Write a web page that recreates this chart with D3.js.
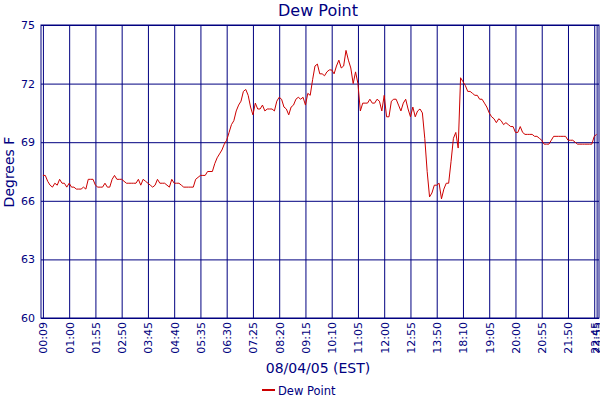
<!DOCTYPE html>
<html>
<head>
<meta charset="utf-8">
<script src="https://cdn.jsdelivr.net/npm/d3@7"></script>
<style>
  body { margin: 0; background: #fff; }
  text { font-family: "DejaVu Sans", Verdana, sans-serif; fill: #000080; }
</style>
</head>
<body>
<div id="chart"></div>
<script>
// dew point readings, one per sample (x axis is sample order)
var dewPoint = [
  67.3, 67.3, 67.0, 66.8, 66.7, 66.9, 66.8, 67.1, 66.9, 66.9,
  66.7, 66.9, 66.7, 66.7, 66.6, 66.6, 66.6, 66.7, 66.6, 67.1,
  67.1, 67.1, 66.8, 66.7, 66.7, 66.7, 66.9, 66.7, 66.7, 67.1,
  67.3, 67.1, 67.1, 67.1, 67.0, 66.9, 66.9, 66.9, 66.9, 66.9,
  67.1, 66.8, 67.1, 67.0, 66.9, 66.8, 66.7, 66.8, 67.1, 66.9,
  66.9, 66.9, 66.8, 66.7, 67.1, 66.9, 66.9, 66.9, 66.8, 66.7,
  66.7, 66.7, 66.7, 66.7, 67.1, 67.2, 67.3, 67.3, 67.3, 67.5,
  67.5, 67.5, 67.9, 68.2, 68.4, 68.6, 68.9, 69.1, 69.5, 69.9,
  70.1, 70.6, 70.9, 71.1, 71.6, 71.7, 71.4, 70.8, 70.4, 71.0,
  70.7, 70.7, 70.9, 70.6, 70.7, 70.7, 70.7, 70.6, 71.1, 71.3,
  71.2, 70.8, 70.7, 70.4, 70.8, 70.9, 71.2, 71.3, 71.2, 71.3,
  70.9, 71.5, 71.4, 72.2, 72.9, 73.0, 72.5, 72.5, 72.4, 72.6,
  72.7, 72.7, 72.5, 72.9, 73.2, 72.8, 72.9, 73.7, 73.2, 72.8,
  72.0, 72.6, 72.0, 70.6, 71.0, 71.0, 71.0, 71.2, 71.0, 71.0,
  71.2, 71.1, 70.6, 71.4, 70.3, 70.3, 71.1, 71.2, 71.2, 70.9,
  70.6, 71.0, 71.2, 70.7, 70.3, 70.8, 70.3, 70.6, 70.7, 70.5,
  69.2, 67.5, 66.2, 66.4, 66.8, 66.8, 66.9, 66.1, 66.6, 66.9,
  66.9, 68.0, 69.2, 69.5, 68.7, 72.3, 72.1, 71.9, 71.6, 71.6,
  71.5, 71.4, 71.4, 71.2, 71.2, 71.0, 70.8, 70.5, 70.3, 70.2,
  70.0, 70.2, 70.1, 69.9, 70.0, 69.9, 69.8, 69.8, 69.5, 69.5,
  69.8, 69.5, 69.4, 69.4, 69.4, 69.4, 69.3, 69.3, 69.2, 69.1,
  68.9, 68.9, 68.9, 69.1, 69.3, 69.3, 69.3, 69.3, 69.3, 69.3,
  69.1, 69.1, 69.1, 69.0, 68.9, 68.9, 68.9, 68.9, 68.9, 68.9,
  68.9, 69.3, 69.4
];

// time labels shown under the axis, every 11th sample plus the last one
var timeLabels = ["00:09", "01:00", "01:55", "02:50", "03:45", "04:40", "05:35",
  "06:30", "07:25", "08:20", "09:15", "10:10", "11:05", "12:00", "12:55",
  "13:50", "18:10", "19:05", "20:00", "20:55", "21:50", "22:45", "23:55"];
var labelIndex = [0, 11, 22, 33, 44, 55, 66, 77, 88, 99, 110, 121, 132, 143, 154,
  165, 176, 187, 198, 209, 220, 231, 232];

var yTicks = [60, 63, 66, 69, 72, 75];

// svg container
var svgWidth = 600;
var svgHeight = 400;

var margin = { top: 25, right: 1, bottom: 82, left: 41 };

var chartWidth = svgWidth - margin.left - margin.right;
var chartHeight = svgHeight - margin.top - margin.bottom;

var svg = d3.select("#chart").append("svg")
  .attr("width", svgWidth)
  .attr("height", svgHeight);

var chartGroup = svg.append("g")
  .attr("transform", `translate(${margin.left}, ${margin.top})`);

// scales
var xScale = d3.scaleLinear()
  .domain([-0.8, 233])
  .range([0, chartWidth]);

var yScale = d3.scaleLinear()
  .domain([60, 75])
  .range([chartHeight, 0]);

// grid lines
var yAxis = d3.axisLeft(yScale)
  .tickValues(yTicks)
  .tickSize(-chartWidth)
  .tickPadding(6)
  .tickFormat(d3.format("d"));

var xAxis = d3.axisBottom(xScale)
  .tickValues(labelIndex)
  .tickSize(-chartHeight)
  .tickFormat(function(d, i) { return timeLabels[i]; });

var yGroup = chartGroup.append("g").call(yAxis);
yGroup.select(".domain").remove();
yGroup.selectAll("line").attr("stroke", "#000080").attr("stroke-width", 1);
yGroup.selectAll("text")
  .style("font-size", "11px")
  .attr("fill", "#000080");

var xGroup = chartGroup.append("g")
  .attr("transform", `translate(0, ${chartHeight})`)
  .call(xAxis);
xGroup.select(".domain").remove();
xGroup.selectAll("line").attr("stroke", "#000080").attr("stroke-width", 1);
xGroup.selectAll("text")
  .style("font-size", "11px")
  .attr("fill", "#000080")
  .attr("text-anchor", "end")
  .attr("transform", "rotate(-90)")
  .attr("x", -4)
  .attr("y", 0)
  .attr("dy", "0.35em");

// frame
chartGroup.append("rect")
  .attr("x", 0)
  .attr("y", 0)
  .attr("width", chartWidth)
  .attr("height", chartHeight)
  .attr("fill", "none")
  .attr("stroke", "#000080")
  .attr("stroke-width", 1);

// dew point line
var line = d3.line()
  .x(function(d, i) { return xScale(i); })
  .y(function(d) { return yScale(d); });

chartGroup.append("path")
  .datum(dewPoint)
  .attr("d", line)
  .attr("fill", "none")
  .attr("stroke", "#cc0000")
  .attr("stroke-width", 1);

// titles
svg.append("text")
  .attr("x", 318)
  .attr("y", 16)
  .attr("text-anchor", "middle")
  .style("font-size", "16px")
  .text("Dew Point");

svg.append("text")
  .attr("x", 318)
  .attr("y", 373)
  .attr("text-anchor", "middle")
  .style("font-size", "14px")
  .text("08/04/05 (EST)");

svg.append("text")
  .attr("transform", "translate(14, 172) rotate(-90)")
  .attr("text-anchor", "middle")
  .style("font-size", "14px")
  .text("Degrees F");

// legend
svg.append("line")
  .attr("x1", 262)
  .attr("x2", 275)
  .attr("y1", 390)
  .attr("y2", 390)
  .attr("stroke", "#cc0000")
  .attr("stroke-width", 2);

svg.append("text")
  .attr("x", 278)
  .attr("y", 395)
  .style("font-size", "11.5px")
  .text("Dew Point");
</script>
</body>
</html>
